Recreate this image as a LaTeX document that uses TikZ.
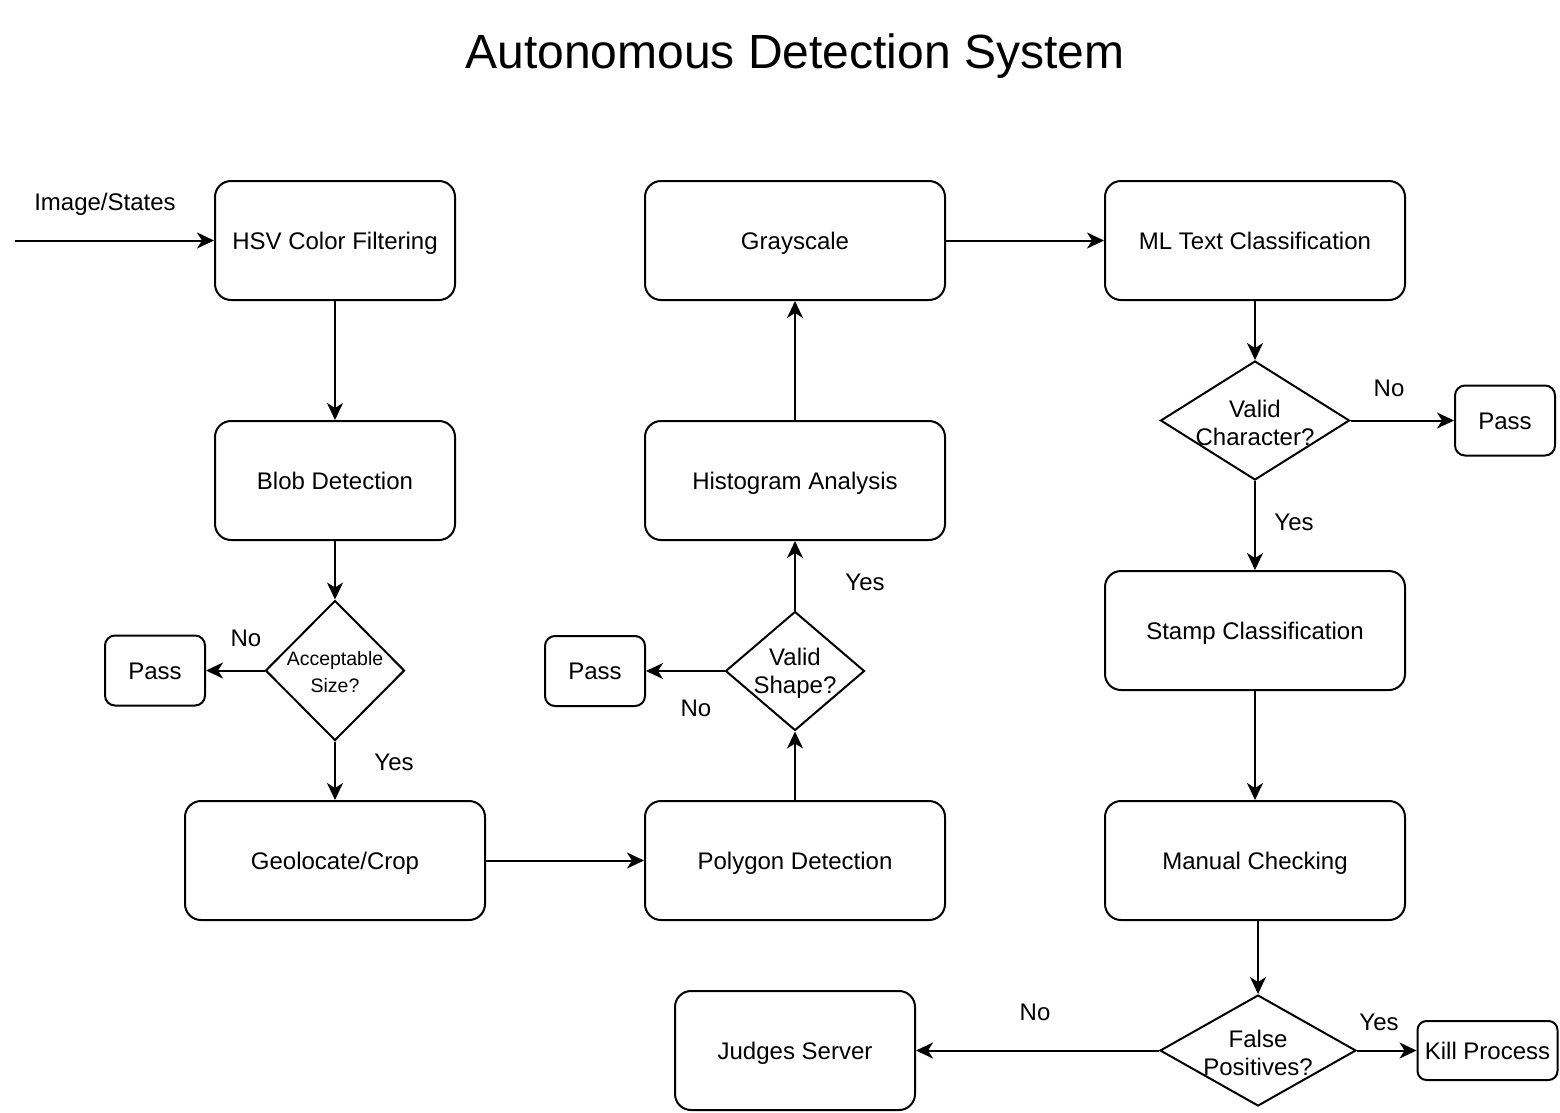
\documentclass[tikz,border=0pt]{standalone}
\usepackage{fontspec}
\setmainfont{Liberation Sans}
\usetikzlibrary{shapes.geometric,arrows.meta}
\begin{document}
\begin{tikzpicture}[x=1pt,y=-1pt,
  every node/.style={font=\fontsize{24}{28}\selectfont, inner sep=0pt},
  box/.style={draw, line width=2pt, rounded corners=16pt, minimum height=119pt, minimum width=#1, text height=17.2pt, text depth=0pt},
  box/.default=300pt,
  pbox/.style={draw, line width=2pt, rounded corners=10pt, minimum width=100pt, minimum height=70pt, text height=17.2pt, text depth=0pt},
  dia/.style 2 args={draw, line width=2pt, diamond, minimum width=#1, minimum height=#2},
  dtext/.style={align=center},
  lbl/.style={text height=17.2pt, text depth=0pt},
  arr/.style={line width=2pt, -{Stealth[length=17pt,width=16pt,inset=5pt]}}
]
\useasboundingbox (0,0) rectangle (1560,1112);

\node[font=\fontsize{48}{56}\selectfont, anchor=base] (title) at (795,68) {Autonomous Detection System};

% left column
\node[box=240pt] (hsv) at (335,240.5) {HSV Color Filtering};
\node[box=240pt] (blob) at (335,480.5) {Blob Detection};
\node[dia={139pt}{140pt}, label={[dtext, font=\fontsize{19.5}{27}\selectfont, yshift=-2pt]center:Acceptable\\Size?}] (acc) at (335,670.5) {};
\node[pbox] (pass1) at (155,670.5) {Pass};
\node[box] (geo) at (335,860.5) {Geolocate/Crop};

% middle column
\node[box] (poly) at (795,860.5) {Polygon Detection};
\node[dia={139pt}{119pt}, label={[dtext, yshift=-2pt]center:Valid\\Shape?}] (vs) at (795,671) {};
\node[pbox] (pass2) at (595,671) {Pass};
\node[box] (hist) at (795,480.5) {Histogram Analysis};
\node[box] (gray) at (795,240.5) {Grayscale};

% right column
\node[box] (ml) at (1255,240.5) {ML Text Classification};
\node[dia={189pt}{119pt}, label={[dtext, yshift=-2pt]center:Valid\\Character?}] (vc) at (1255,420.5) {};
\node[pbox] (pass3) at (1505,420.5) {Pass};
\node[box] (stamp) at (1255,630.5) {Stamp Classification};
\node[box] (mc) at (1255,860.5) {Manual Checking};
\node[dia={196pt}{111pt}, label={[dtext, yshift=-2pt]center:False\\Positives?}] (fp) at (1258,1050.5) {};
\node[box=240pt] (judges) at (795,1050.5) {Judges Server};
\node[draw, line width=2pt, rounded corners=9pt, minimum width=140pt, minimum height=59pt, text height=17.2pt, text depth=0pt] (kill) at (1487.5,1050.5) {Kill Process};

% connectors
\coordinate (start) at (15,240.5);
\node[lbl] (lin) at (105,202) {Image/States};
\draw[arr] (start) -- (hsv.west);
\draw[arr] (hsv.south) -- (blob.north);
\draw[arr] (blob.south) -- (acc.north);
\draw[arr] (acc.west) -- (pass1.east);
\node[lbl] (l1) at (246,638) {No};
\draw[arr] (acc.south) -- (geo.north);
\node[lbl] (l2) at (394,762) {Yes};
\draw[arr] (geo.east) -- (poly.west);
\draw[arr] (poly.north) -- (vs.south);
\draw[arr] (vs.west) -- (pass2.east);
\node[lbl] (l3) at (696,708) {No};
\draw[arr] (vs.north) -- (hist.south);
\node[lbl] (l4) at (865,582) {Yes};
\draw[arr] (hist.north) -- (gray.south);
\draw[arr] (gray.east) -- (ml.west);
\draw[arr] (ml.south) -- (vc.north);
\draw[arr] (vc.east) -- (pass3.west);
\node[lbl] (l5) at (1389,388) {No};
\draw[arr] (vc.south) -- (stamp.north);
\node[lbl] (l6) at (1294,522) {Yes};
\draw[arr] (stamp.south) -- (mc.north);
\draw[arr] (fp.north |- mc.south) -- (fp.north);
\draw[arr] (fp.west) -- (judges.east);
\node[lbl] (l7) at (1035,1012) {No};
\draw[arr] (fp.east) -- (kill.west);
\node[lbl] (l8) at (1379,1022) {Yes};
\end{tikzpicture}
\end{document}
